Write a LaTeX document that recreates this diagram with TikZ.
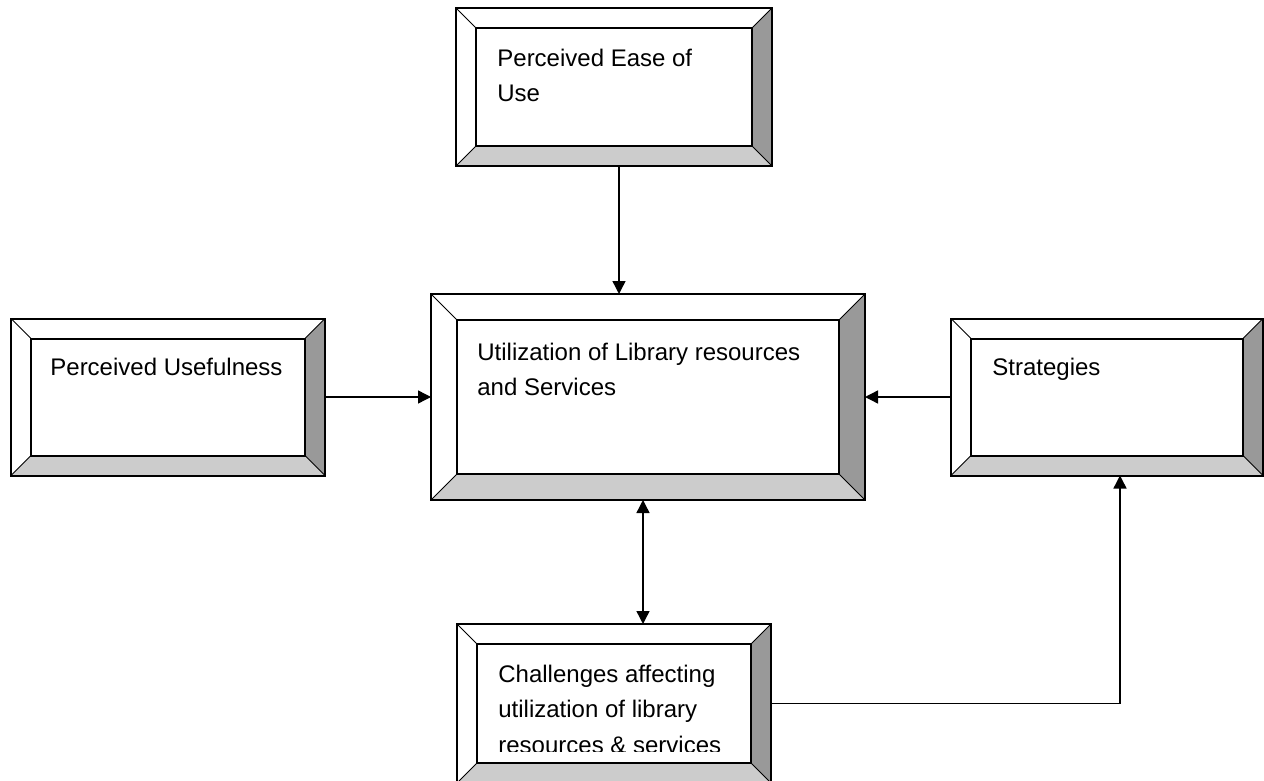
\documentclass[tikz,border=0pt]{standalone}
\usepackage{fontspec}
\setmainfont{Liberation Sans}
\usetikzlibrary{arrows.meta,positioning,calc}
\definecolor{bevelDark}{RGB}{153,153,153}
\definecolor{bevelLight}{RGB}{204,204,204}

\begin{document}
\begin{tikzpicture}[x=0.5pt,y=-0.5pt,>={Triangle[length=6.5pt,width=6.5pt]},
  bevelbox/.style={draw,line width=1pt,fill=white,inner sep=0pt,outer sep=0pt,
    path picture={
      \path (path picture bounding box.south west) coordinate (pSW) ++(#1,#1) coordinate (qSW)
            (path picture bounding box.north east) coordinate (pNE) ++(-#1,-#1) coordinate (qNE)
            (pSW |- pNE) coordinate (pNW) (pNE |- pSW) coordinate (pSE)
            (qSW |- qNE) coordinate (qNW) (qNE |- qSW) coordinate (qSE);
      \fill[bevelDark] (pNE) -- (pSE) -- (qSE) -- (qNE) -- cycle;
      \fill[bevelLight] (pSW) -- (pSE) -- (qSE) -- (qSW) -- cycle;
      \draw[line width=0.5pt] (pNW) -- (qNW) (pNE) -- (qNE) (pSE) -- (qSE) (pSW) -- (qSW);
      \draw[line width=1pt] (qSW) rectangle (qNE);
    }},
  boxtext/.style={anchor=base west,align=left,inner sep=0pt,font=\fontsize{12pt}{17.75pt}\selectfont},
  link/.style={line width=0.7pt}]
\useasboundingbox (0,0) rectangle (1264,781);
% boxes
\node[bevelbox=13pt,minimum width=217pt,minimum height=103pt] (util) at (648,397) {};
\node[bevelbox=10pt,minimum width=158pt,minimum height=79pt,above=64pt of util,xshift=-17pt] (ease) {};
\node[bevelbox=10pt,minimum width=157pt,minimum height=78.5pt,left=53pt of util] (useful) {};
\node[bevelbox=10pt,minimum width=156pt,minimum height=78.5pt,right=43pt of util] (strat) {};
\node[bevelbox=10pt,minimum width=157pt,minimum height=79.5pt,below=62pt of util,xshift=-17pt] (chall) {};
% texts (base = last line)
\node[boxtext] (tEase) at ([xshift=20.5pt,yshift=-47pt]ease.north west) {Perceived Ease of\\Use};
\node[boxtext] (tUtil) at ([xshift=23pt,yshift=-50.75pt]util.north west) {Utilization of Library resources\\and Services};
\node[boxtext] (tUseful) at ([xshift=19.5pt,yshift=-28.5pt]useful.north west) {Perceived Usefulness};
\node[boxtext] (tStrat) at ([xshift=20.5pt,yshift=-28.5pt]strat.north west) {Strategies};
\begin{scope}
\clip (chall.north west) rectangle ([yshift=-63.5pt]chall.north east);
\node[boxtext] (tChall) at ([xshift=20.5pt,yshift=-64.5pt]chall.north west) {Challenges affecting\\utilization of library\\resources \& services};
\end{scope}
% arrows
\draw[link,->] ([xshift=2.5pt]ease.south) -- ([xshift=2.5pt]ease.south |- util.north);
\draw[link,->] (useful.east) -- (useful.east -| util.west);
\draw[link,->] (strat.west) -- (strat.west -| util.east);
\draw[link,<->] ([xshift=-2.5pt]util.south) -- ([xshift=-2.5pt]util.south |- chall.north);
\draw[link,->] (chall.east) -| ([xshift=6.5pt]strat.south);
\end{tikzpicture}
\end{document}
